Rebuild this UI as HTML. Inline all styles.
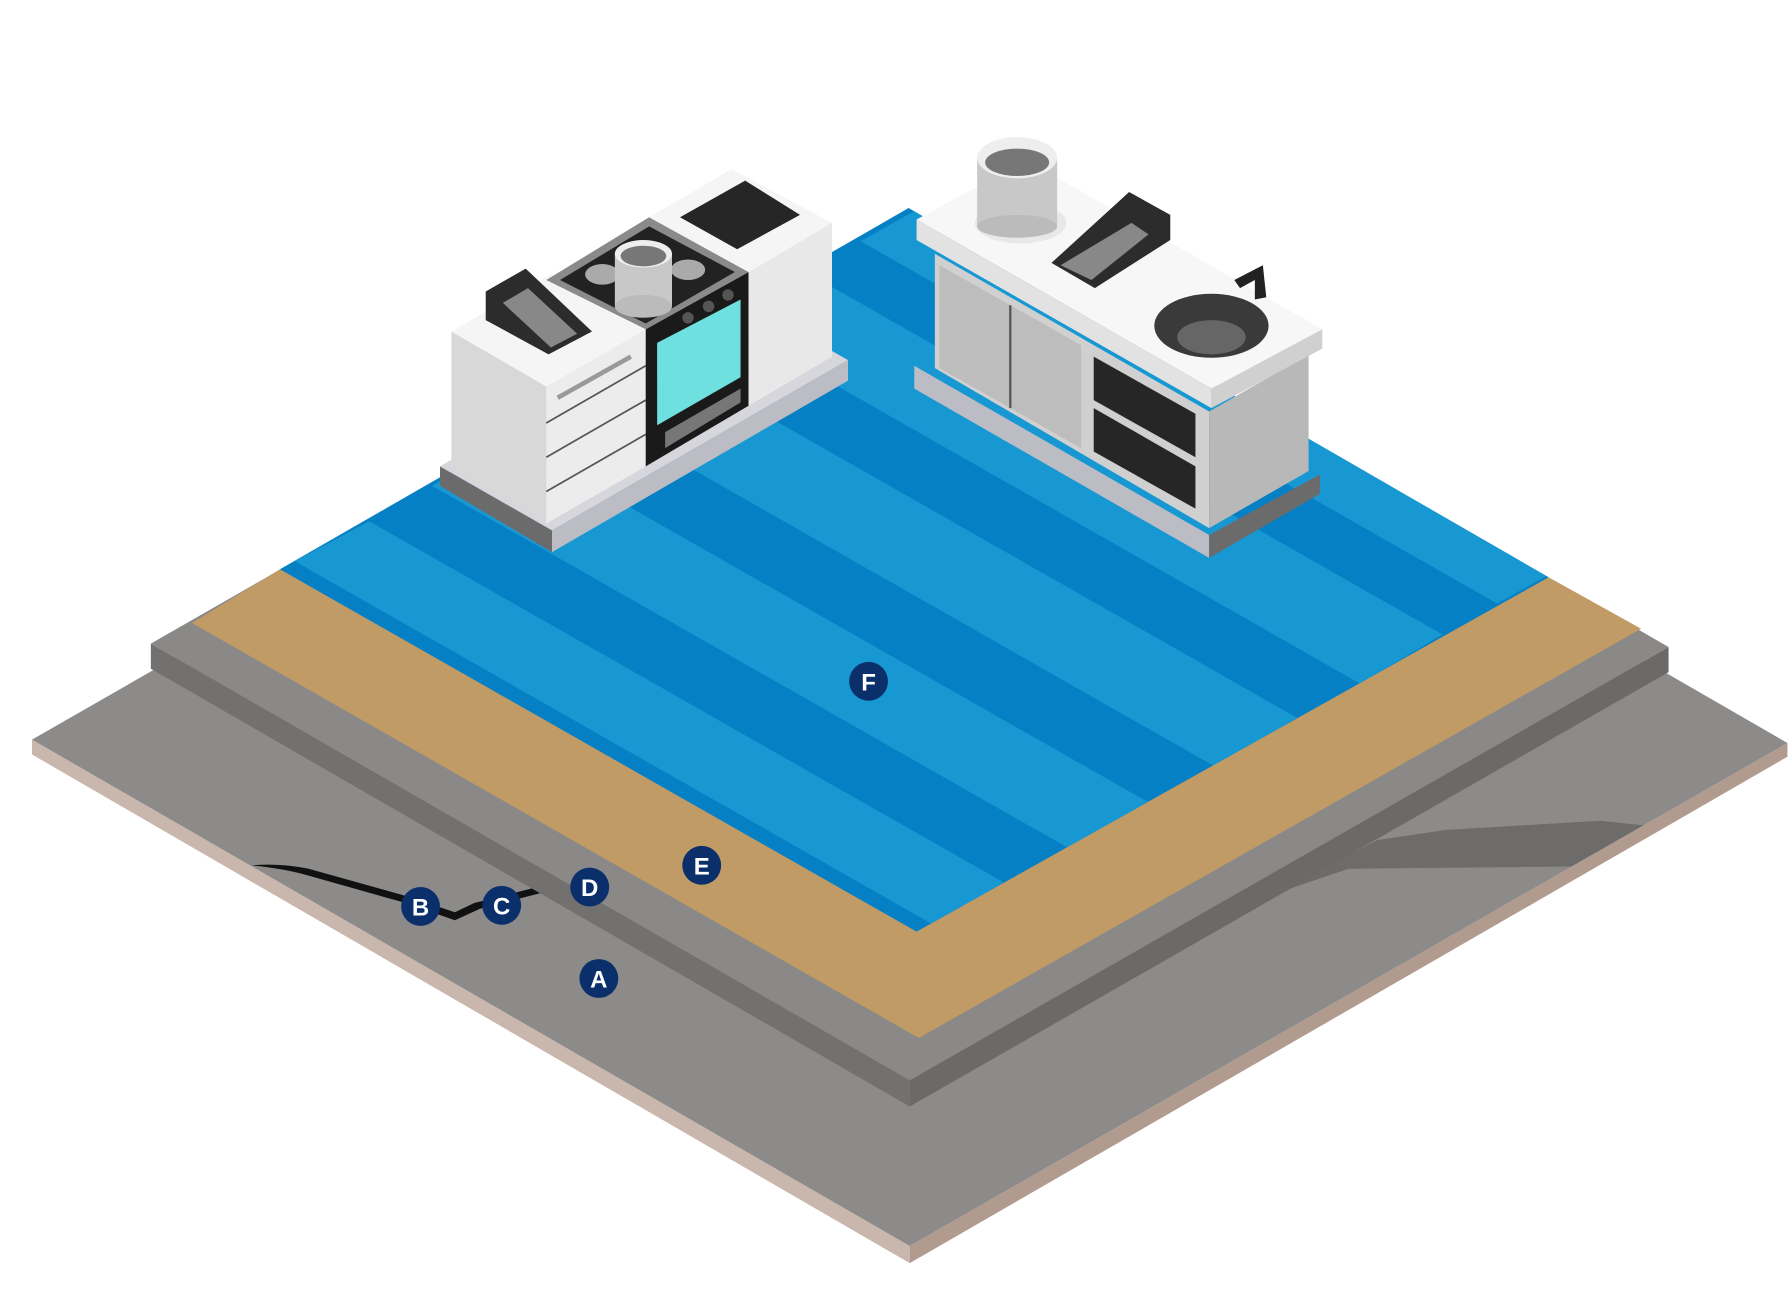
<!DOCTYPE html>
<html><head><meta charset="utf-8"><style>
html,body{margin:0;padding:0;background:#fff;}
svg{display:block;}
text{font-family:"Liberation Sans",sans-serif;font-weight:bold;fill:#fff;}
</style></head><body>
<svg width="1792" height="1310" viewBox="0 0 1568 1146" preserveAspectRatio="none" xmlns="http://www.w3.org/2000/svg">
<defs>
<clipPath id="floor"><polygon points="245,498 802,815 1355,505 795,182"/></clipPath>
</defs>
<!-- base slab -->
<polygon points="28,647 796,1090 796,1105 28,660" fill="#c9b7ad"/>
<polygon points="796,1090 1564,650 1564,662 796,1105" fill="#b19a8e"/>
<polygon points="28,647 796,207 1564,650 796,1090" fill="#8c8b89"/>
<!-- shadows -->
<polygon points="1115,782 1205,735 1265,726 1400,718 1438,722 1375,758 1180,760" fill="#6d6c6a"/>
<path d="M220,757 Q250,760 270,766 L355,790 L398,805 L420,795 L478,780 L470,776 L415,790 L398,798 L356,784 L270,760 Q245,755 220,757Z" fill="#111"/>
<!-- raised layer -->
<polygon points="132,563 796,945 796,968 132,585" fill="#727170"/>
<polygon points="796,945 1460,566 1460,588 796,968" fill="#6b6a69"/>
<polygon points="132,563 796,183 1460,566 796,945" fill="#8a8988"/>
<!-- tan border -->
<polygon points="168,545 804,908 1436,550 1355,505 802,815 245,498" fill="#c19b65"/>
<!-- blue floor -->
<polygon points="245,498 802,815 1355,505 795,182" fill="#0680c5"/>
<g clip-path="url(#floor)" fill="#1898d2">
<polygon points="815,808 880,773 323,456 258,491"/>
<polygon points="935,742 1005,702 448,385 378,425"/>
<polygon points="1062,670 1135,628 578,311 505,353"/>
<polygon points="1190,598 1262,555 705,238 633,281"/>
<polygon points="1310,528 1360,500 803,183 753,211"/>
</g>
<!-- LEFT UNIT -->
<polygon points="385,408 483,464 483,483 385,425" fill="#6b6b6b"/>
<polygon points="483,464 742,315 742,333 483,483" fill="#bcbcc4"/>
<polygon points="385,408 483,464 742,315 644,259" fill="#d6d6dc"/>
<polygon points="395,290 478,338 478,458 395,410" fill="#d8d8d8"/>
<polygon points="478,338 565,288 565,408 478,458" fill="#ececec"/>
<g stroke="#555" stroke-width="1.5" fill="none">
<line x1="478" y1="370" x2="565" y2="320"/><line x1="478" y1="400" x2="565" y2="350"/><line x1="478" y1="430" x2="565" y2="380"/>
<line x1="655" y1="265" x2="728" y2="223"/><line x1="655" y1="295" x2="728" y2="253"/><line x1="655" y1="325" x2="728" y2="283"/>
<line x1="488" y1="348" x2="552" y2="312" stroke="#999" stroke-width="4"/>
<line x1="662" y1="247" x2="722" y2="213" stroke="#999" stroke-width="4"/>
</g>
<polygon points="395,290 478,338 565,288 482,240" fill="#f5f5f5"/>
<polygon points="565,288 655,238 655,355 565,408" fill="#1a1a1a"/>
<polygon points="575,300 648,262 648,330 575,372" fill="#6ee0e0"/>
<polygon points="582,378 648,340 648,352 582,392" fill="#777"/>
<polygon points="478,245 565,288 655,238 568,190" fill="#8a8a8a"/>
<polygon points="490,245 565,283 643,238 568,198" fill="#222"/>
<ellipse cx="527" cy="240" rx="15" ry="9" fill="#aaa"/><ellipse cx="602" cy="236" rx="15" ry="9" fill="#aaa"/>
<rect x="538" y="222" width="50" height="46" fill="#c8c8c8"/>
<ellipse cx="563" cy="268" rx="25" ry="10" fill="#bbb"/>
<ellipse cx="563" cy="222" rx="25" ry="12" fill="#eee"/><ellipse cx="563" cy="224" rx="20" ry="9" fill="#777"/>
<circle cx="602" cy="278" r="5" fill="#555"/><circle cx="620" cy="268" r="5" fill="#555"/><circle cx="637" cy="258" r="5" fill="#555"/>
<polygon points="655,238 728,195 728,312 655,355" fill="#e8e8e8"/>
<polygon points="568,190 655,238 728,195 640,148" fill="#f5f5f5"/>
<polygon points="595,190 645,218 700,188 652,158" fill="#262626"/>
<polygon points="425,255 460,235 518,290 480,310 425,280" fill="#2c2c2c"/>
<polygon points="440,265 462,252 505,292 482,304" fill="#888"/>
<!-- RIGHT UNIT -->
<polygon points="800,320 1058,468 1058,488 800,340" fill="#bcbcc4"/>
<polygon points="1058,468 1155,415 1155,432 1058,488" fill="#6b6b6b"/>
<polygon points="818,222 1058,360 1058,462 818,322" fill="#d0d0d0"/>
<polygon points="822,232 946,302 946,392 822,322" fill="#bdbdbd"/>
<line x1="884" y1="267" x2="884" y2="357" stroke="#555" stroke-width="2"/>
<polygon points="957,312 1046,362 1046,400 957,350" fill="#262626"/>
<polygon points="957,357 1046,408 1046,445 957,395" fill="#262626"/>
<polygon points="1058,360 1145,310 1145,412 1058,462" fill="#b8b8b8"/>
<polygon points="802,192 1060,340 1157,288 898,140" fill="#f7f7f7"/>
<polygon points="802,192 1060,340 1060,357 802,210" fill="#e2e2e2"/>
<polygon points="1060,340 1157,288 1157,305 1060,357" fill="#d0d0d0"/>
<ellipse cx="1060" cy="285" rx="50" ry="28" fill="#3a3a3a"/>
<ellipse cx="1060" cy="295" rx="30" ry="15" fill="#666"/>
<polygon points="1080,245 1105,232 1108,260 1098,262 1098,245 1085,252" fill="#222"/>
<ellipse cx="893" cy="195" rx="40" ry="18" fill="#e8e8e8"/>
<rect x="855" y="138" width="70" height="60" fill="#c8c8c8"/>
<ellipse cx="890" cy="198" rx="35" ry="10" fill="#bbb"/>
<ellipse cx="890" cy="138" rx="35" ry="18" fill="#eee"/><ellipse cx="890" cy="142" rx="28" ry="12" fill="#777"/>
<polygon points="920,230 988,168 1024,188 1024,210 958,252" fill="#2c2c2c"/>
<polygon points="928,232 990,195 1005,205 955,245" fill="#888"/>
<!-- labels -->
<g fill="#0a2f6b">
<circle cx="524" cy="856" r="17"/><circle cx="368" cy="793" r="17"/><circle cx="439" cy="792" r="17"/>
<circle cx="516" cy="776" r="17"/><circle cx="614" cy="757" r="17"/><circle cx="760" cy="596" r="17"/>
</g>
<g font-size="21" text-anchor="middle">
<text x="524" y="864">A</text><text x="368" y="801">B</text><text x="439" y="800">C</text>
<text x="516" y="784">D</text><text x="614" y="765">E</text><text x="760" y="604">F</text>
</g>
</svg>
</body></html>
